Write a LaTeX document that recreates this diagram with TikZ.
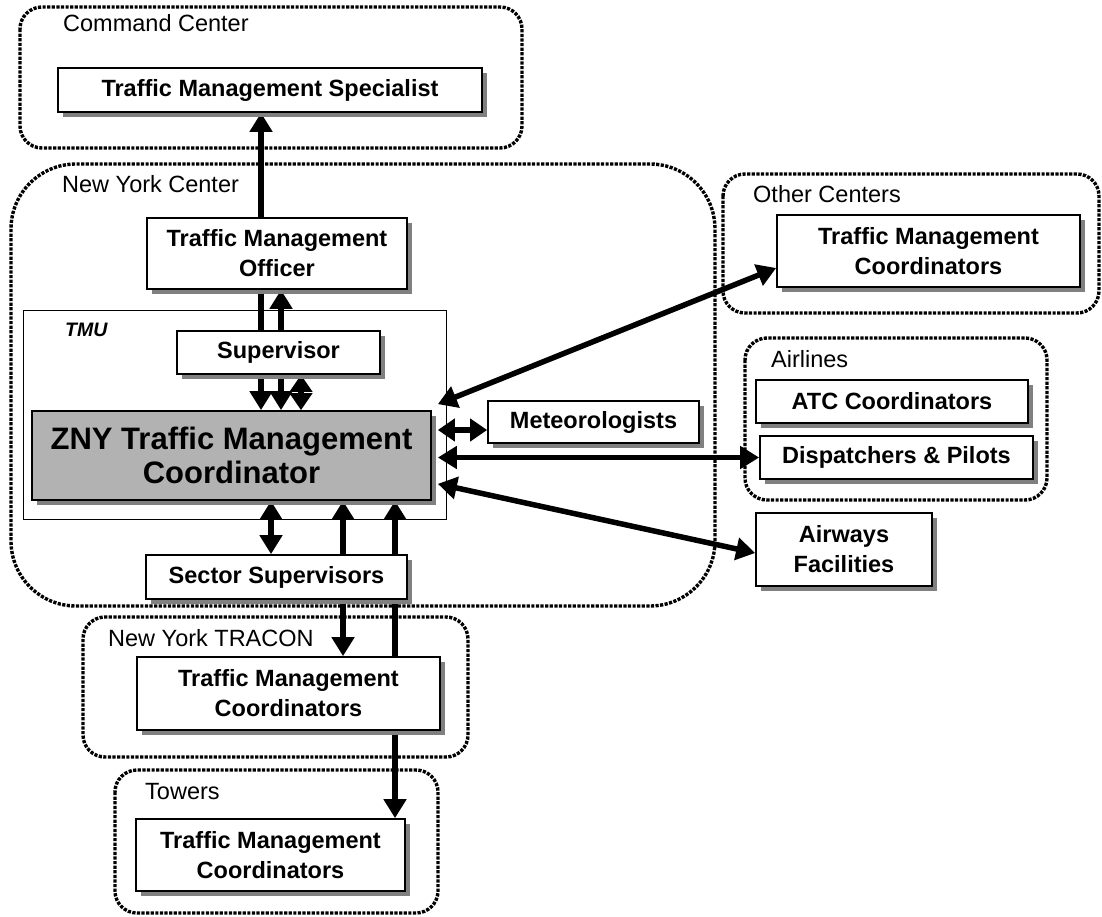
\documentclass[tikz,border=0pt]{standalone}
\usepackage{fontspec}
\setmainfont{Liberation Sans}
\usetikzlibrary{arrows.meta,shadows,calc}
\pgfdeclarelayer{bg}
\pgfdeclarelayer{conn}
\pgfsetlayers{bg,conn,main}
\definecolor{zgray}{gray}{0.70}
\begin{document}
\begin{tikzpicture}[x=1pt,y=-1pt,
  box/.style={draw=black, line width=1.7pt, fill=white, align=center, inner sep=0pt,
    font=\bfseries\fontsize{23.5}{30}\selectfont,
    drop shadow={shadow xshift=5pt, shadow yshift=-5pt, fill=black!50, opacity=1}},
  grp/.style={draw=black, line width=3.4pt, dash pattern=on 3.2pt off 1.4pt, rounded corners=22pt},
  lbl/.style={anchor=base west, inner sep=0pt, font=\fontsize{23.5}{28}\selectfont},
  arr/.style={line width=5.5pt, -{Triangle[length=19pt,width=22pt]}},
  darr/.style={line width=5.5pt, {Triangle[length=19pt,width=22pt]}-{Triangle[length=19pt,width=22pt]}},
  sdarr/.style={line width=5.5pt, {Triangle[length=17pt,width=22pt]}-{Triangle[length=17pt,width=22pt]}}]
\useasboundingbox (0,0) rectangle (1102,917);

\begin{pgfonlayer}{bg}
  \fill[white] (0,0) rectangle (1102,917);
  \draw[grp] (20,7) rectangle (522,148);
  \draw[grp, rounded corners=65pt] (11,164) rectangle (715,606);
  \draw[grp] (723,174) rectangle (1099,313);
  \draw[grp] (745,338) rectangle (1047,500);
  \draw[grp] (83,617) rectangle (468,757);
  \draw[grp] (115,770) rectangle (438,913);
  \draw[line width=1pt] (23,310) rectangle (446,519);
\end{pgfonlayer}

% group labels
\node[lbl] (lcc) at (63,32) {Command Center};
\node[lbl] (lnyc) at (62,193) {New York Center};
\node[lbl, font=\bfseries\itshape\fontsize{19.5}{22}\selectfont] (ltmu) at (65,336) {TMU};
\node[lbl] (loc) at (753,203) {Other Centers};
\node[lbl] (lair) at (771,367) {Airlines};
\node[lbl] (ltra) at (108,646) {New York TRACON};
\node[lbl] (ltow) at (145,799) {Towers};

% boxes
\node[box, minimum width=424pt, minimum height=44pt] (tms) at (270,90) {Traffic Management Specialist};
\node[box, minimum width=260pt, minimum height=71pt] (tmo) at (277,253.5) {Traffic Management\\Officer};
\node[box, minimum width=203pt, minimum height=43pt] (sup) at (278.5,352.5) {Supervisor};
\node[box, fill=zgray, minimum width=399pt, minimum height=89pt,
      font=\bfseries\fontsize{31}{34}\selectfont] (zny) at (231.5,455.5) {ZNY Traffic Management\\Coordinator};
\node[box, minimum width=211pt, minimum height=42pt] (met) at (593.5,422) {Meteorologists};
\node[box, minimum width=303pt, minimum height=72pt] (otmc) at (928.5,251) {Traffic Management\\Coordinators};
\node[box, minimum width=272pt, minimum height=43pt] (atc) at (892,401.5) {ATC Coordinators};
\node[box, minimum width=273pt, minimum height=43pt] (disp) at (896.5,457.5) {Dispatchers \& Pilots};
\node[box, minimum width=176pt, minimum height=73pt] (afac) at (844,549.5) {Airways\\Facilities};
\node[box, minimum width=261pt, minimum height=44pt] (ssup) at (276.5,577) {Sector Supervisors};
\node[box, minimum width=303pt, minimum height=73pt] (ttmc) at (288.5,693.5) {Traffic Management\\Coordinators};
\node[box, minimum width=269pt, minimum height=72pt] (wtmc) at (270.5,855) {Traffic Management\\Coordinators};

% connectors
\begin{pgfonlayer}{conn}
  \coordinate (xa) at (261,0);
  \coordinate (xb) at (281,0);
  \coordinate (xc) at (301,0);
  \coordinate (xd) at (271,0);
  \coordinate (xe) at (343,0);
  \coordinate (xf) at (395,0);
  \draw[arr] (tmo.north -| xa) -- (tms.south -| xa);
  \draw[arr] (tmo.south -| xa) -- (zny.north -| xa);
  \draw[darr] (tmo.south -| xb) -- (zny.north -| xb);
  \draw[sdarr] (sup.south -| xc) -- (zny.north -| xc);
  \draw[darr] (zny.south -| xd) -- (ssup.north -| xd);
  \draw[darr] (zny.south -| xe) -- (ttmc.north -| xe);
  \draw[darr] (zny.south -| xf) -- (wtmc.north -| xf);
  \coordinate (ze) at ([xshift=6pt]zny.east);
  \coordinate (m1) at ([yshift=-8pt]met.west);
  \draw[darr] ([shift={(6,-6)}]zny.north east) -- ([yshift=-17pt]otmc.west);
  \draw[sdarr] (ze |- m1) -- (m1);
  \draw[darr] (ze |- disp.west) -- (disp.west);
  \draw[darr] ([shift={(6,-17)}]zny.south east) -- ([yshift=-3.5pt]afac.west);
\end{pgfonlayer}
\end{tikzpicture}
\end{document}
